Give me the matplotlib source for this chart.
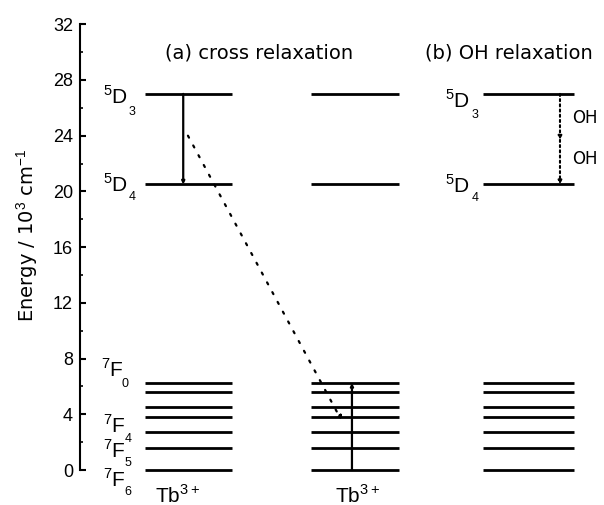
import matplotlib
matplotlib.use('Agg')
import matplotlib.pyplot as plt

plt.rcParams['font.family'] = ['Liberation Sans', 'DejaVu Sans']
plt.rcParams['mathtext.fontset'] = 'custom'
plt.rcParams['mathtext.rm'] = 'Liberation Sans'

# energy levels (10^3 cm^-1)
d_levels = [27.0, 20.5]                     # 5D3, 5D4
f_levels = [0.0, 1.6, 2.75, 3.8, 4.5, 5.6, 6.25]  # 7F6 ... 7F0

# horizontal extent of each level group (x data units)
group_a = (1.24, 2.90)
group_mid = (4.40, 6.08)
group_b = (7.70, 9.42)

# cross relaxation path: (x, energy)
cr_donor = (1.97, 27.0, 20.5)
cr_path = [(2.06, 24.0), (5.00, 3.5)]
cr_acceptor = (5.19, 0.0, 6.25)
oh_x = 9.16
oh_steps = [27.0, 23.7, 20.5]

# term labels: letter with its left superscript, loose indices drawn
# as separate small texts as in the original
d_terms = [(0.67, 26.8, '3', 0.99, 25.7), (0.67, 20.5, '4', 0.99, 19.6),
           (7.21, 26.5, '3', 7.54, 25.5), (7.21, 20.4, '4', 7.55, 19.5)]
f_terms = [(0.61, 7.2), (0.66, 3.2), (0.66, 1.4), (0.66, -0.7)]
f_indices = [(0.86, 6.2, '0'), (0.92, 2.2, '4'), (0.92, 0.5, '5'), (0.92, -1.6, '6')]

fig = plt.figure(figsize=(6.04, 5.05), dpi=100)
ax = fig.add_axes([80 / 604, 0, 524 / 604, 1])
ax.set_xlim(0, 10)
ax.set_ylim(-2.51, 33.74)

for s in ['top', 'right', 'bottom']:
    ax.spines[s].set_visible(False)
ax.spines['left'].set_bounds(0, 32)
ax.spines['left'].set_linewidth(1.5)
ax.set_xticks([])
ax.set_yticks(range(0, 33, 4))
ax.set_yticks(range(2, 32, 4), minor=True)
ax.tick_params(axis='y', direction='in', length=4, width=1.5, labelsize=13, pad=5)
ax.tick_params(axis='y', which='minor', direction='in', length=2, width=1.2)
ax.set_ylabel('Energy / 10$^3$ cm$^{-1}$', fontsize=14, family='DejaVu Sans')
ax.yaxis.set_label_coords(-0.075, 0.535)

lw = 2
# level lines
for x0, x1 in [group_a, group_mid, group_b]:
    ax.hlines(d_levels, x0, x1, color='black', lw=lw)
    ax.hlines(f_levels, x0, x1, color='black', lw=lw)

# (a) donor transition and acceptor transition
ax.annotate('', xy=(cr_donor[0], cr_donor[2]), xytext=(cr_donor[0], cr_donor[1]),
            arrowprops=dict(arrowstyle='-|>', color='black', lw=1.6,
                            mutation_scale=4, shrinkA=0, shrinkB=0))
ax.annotate('', xy=(cr_acceptor[0], cr_acceptor[2]), xytext=(cr_acceptor[0], cr_acceptor[1]),
            arrowprops=dict(arrowstyle='-|>', color='black', lw=1.6,
                            mutation_scale=4, shrinkA=0, shrinkB=0))
# dotted energy transfer path
ax.annotate('', xy=cr_path[1], xytext=cr_path[0],
            arrowprops=dict(arrowstyle='-|>', color='black', lw=1.6,
                            linestyle=(0, (1, 4)), mutation_scale=7,
                            shrinkA=0, shrinkB=0))

# (b) OH relaxation: two dotted steps
for top, bot in zip(oh_steps[:-1], oh_steps[1:]):
    ax.annotate('', xy=(oh_x, bot), xytext=(oh_x, top),
                arrowprops=dict(arrowstyle='-|>', color='black', lw=1.5,
                                linestyle=(0, (1, 1.5)), mutation_scale=5,
                                shrinkA=0, shrinkB=0))
ax.text(9.40, 25.3, 'OH', fontsize=12, va='center', ha='left', family='DejaVu Sans')
ax.text(9.40, 22.3, 'OH', fontsize=12, va='center', ha='left', family='DejaVu Sans')

# titles
ax.text(1.62, 29.9, '(a) cross relaxation', fontsize=14, va='center', ha='left',
        family='DejaVu Sans')
ax.text(6.58, 29.9, '(b) OH relaxation', fontsize=14, va='center', ha='left',
        family='DejaVu Sans')

# level labels
for x, y, idx, xi, yi in d_terms:
    ax.text(x, y, '$^5$D', fontsize=15, va='center', ha='center')
    ax.text(xi, yi, idx, fontsize=9, va='center', ha='center')
for x, y in f_terms:
    ax.text(x, y, '$^7$F', fontsize=15, va='center', ha='center')
for x, y, idx in f_indices:
    ax.text(x, y, idx, fontsize=9, va='center', ha='center')

ax.text(1.87, -1.8, 'Tb$^{3+}$', fontsize=15, va='center', ha='center')
ax.text(5.30, -1.8, 'Tb$^{3+}$', fontsize=15, va='center', ha='center')

plt.savefig('out.png', dpi=100)
plt.close()
